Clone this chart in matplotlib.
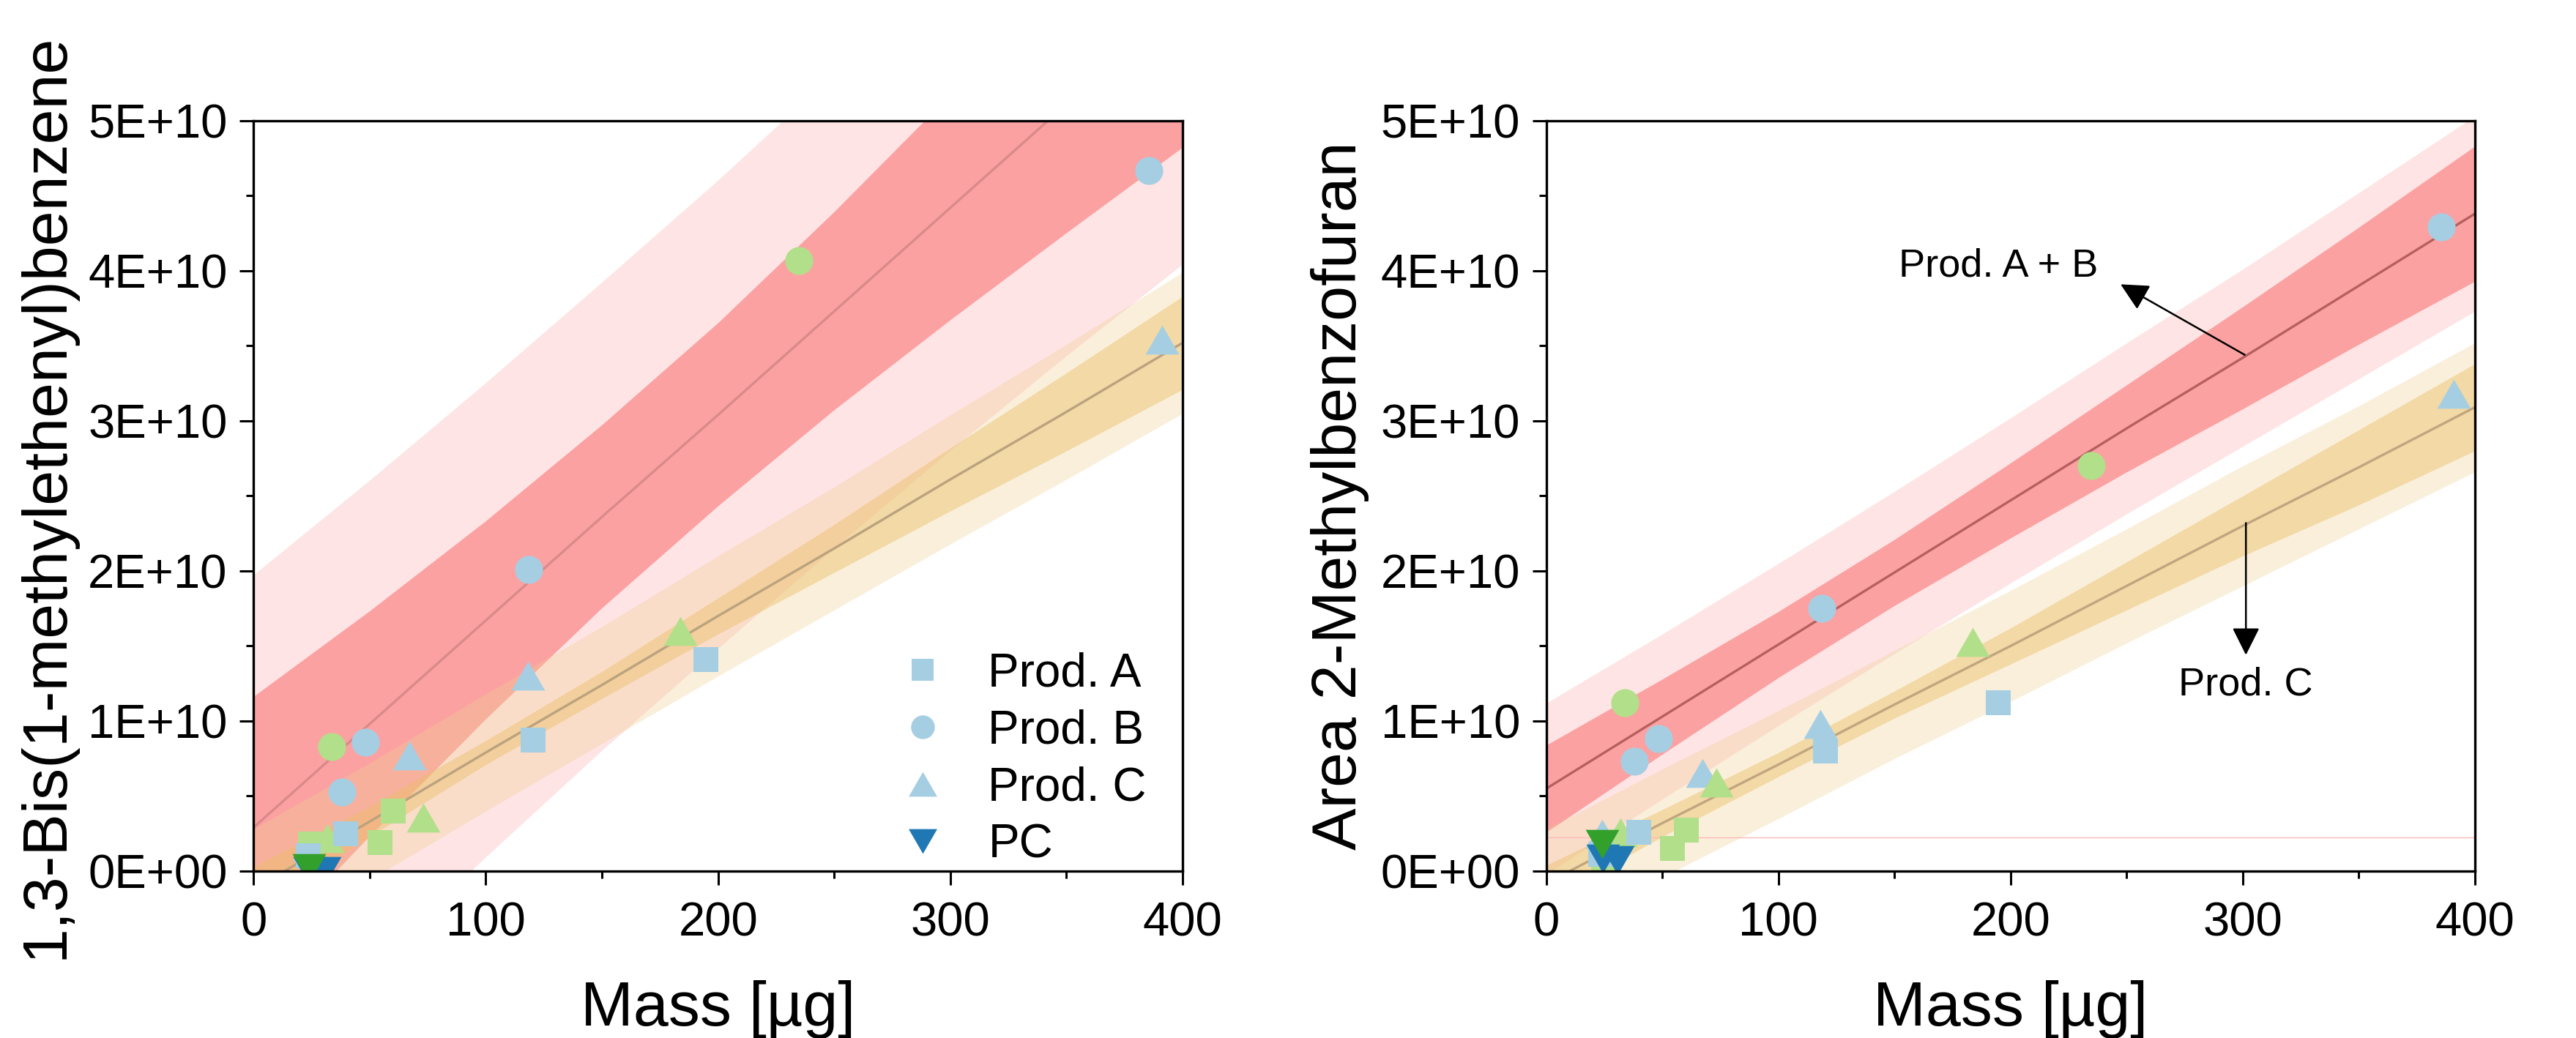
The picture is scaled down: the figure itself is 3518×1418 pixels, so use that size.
import numpy as np
import matplotlib
matplotlib.use("Agg")
import matplotlib.pyplot as plt
from matplotlib.lines import Line2D
from matplotlib.ticker import FuncFormatter, MultipleLocator

plt.rcParams["font.family"] = ["Liberation Sans", "DejaVu Sans"]

# ---------------- data (peak areas in units of 1E10) ----------------
# sample masses [ug], light blue / light green batches
mass_a_blue = [23.5, 39.7, 120.3, 194.7]
mass_a_green = [24.5, 54.4, 60.2]
mass_b_blue = [38.0, 48.3, 118.6, 385.6]
mass_b_green = [33.8, 234.9]
mass_c_blue = [24.1, 67.2, 118.1, 391.0]
mass_c_green = [31.8, 73.2, 183.7]
mass_pc_blue = [24.2, 30.5]
mass_pc_green = [24.0]

# 1,3-Bis(1-methylethenyl)benzene
bis_a_blue = [0.10, 0.25, 0.874, 1.41]
bis_a_green = [0.18, 0.19, 0.40]
bis_b_blue = [0.525, 0.86, 2.01, 4.67]
bis_b_green = [0.83, 4.07]
bis_c_blue = [0.16, 0.77, 1.30, 3.54]
bis_c_green = [0.22, 0.355, 1.60]
bis_pc_blue = [0.0, 0.0]
bis_pc_green = [0.02]

# 2-Methylbenzofuran
mbf_a_blue = [0.11, 0.257, 0.80, 1.12]
mbf_a_green = [0.08, 0.15, 0.272]
mbf_b_blue = [0.73, 0.885, 1.75, 4.29]
mbf_b_green = [1.12, 2.70]
mbf_c_blue = [0.25, 0.655, 0.98, 3.18]
mbf_c_green = [0.26, 0.59, 1.525]
mbf_pc_blue = [0.085, 0.073]
mbf_pc_green = [0.18]

band_x = [0, 50, 100, 150, 200, 250, 300, 350, 400]

bis_ab_fit = [0.29, 0.98, 1.67, 2.36, 3.04, 3.73, 4.42, 5.11, 5.80]
bis_ab_conf_up = [1.16, 1.73, 2.33, 2.97, 3.65, 4.39, 5.17, 5.97, 6.78]
bis_ab_conf_lo = [-0.58, 0.23, 1.01, 1.75, 2.43, 3.07, 3.67, 4.25, 4.82]
bis_ab_pred_up = [1.97, 2.60, 3.25, 3.92, 4.60, 5.31, 6.04, 6.79, 7.56]
bis_ab_pred_lo = [-1.39, -0.64, 0.09, 0.80, 1.48, 2.15, 2.80, 3.43, 4.04]

bis_c_fit = [-0.12, 0.33, 0.79, 1.24, 1.70, 2.15, 2.61, 3.06, 3.52]
bis_c_conf_up = [0.03, 0.43, 0.87, 1.33, 1.82, 2.31, 2.82, 3.32, 3.83]
bis_c_conf_lo = [-0.27, 0.23, 0.71, 1.15, 1.58, 1.99, 2.40, 2.80, 3.21]
bis_c_pred_up = [0.28, 0.72, 1.18, 1.63, 2.10, 2.56, 3.04, 3.51, 3.99]
bis_c_pred_lo = [-0.52, -0.06, 0.40, 0.85, 1.30, 1.74, 2.18, 2.61, 3.05]

mbf_ab_fit = [0.55, 1.03, 1.51, 1.99, 2.47, 2.95, 3.42, 3.90, 4.38]
mbf_ab_conf_up = [0.84, 1.28, 1.73, 2.21, 2.72, 3.24, 3.76, 4.29, 4.83]
mbf_ab_conf_lo = [0.26, 0.78, 1.29, 1.77, 2.22, 2.66, 3.08, 3.51, 3.93]
mbf_ab_pred_up = [1.12, 1.58, 2.05, 2.53, 3.02, 3.52, 4.01, 4.52, 5.03]
mbf_ab_pred_lo = [-0.02, 0.48, 0.97, 1.45, 1.92, 2.38, 2.83, 3.28, 3.73]

mbf_c_fit = [-0.08, 0.32, 0.71, 1.11, 1.50, 1.90, 2.30, 2.69, 3.09]
mbf_c_conf_up = [0.04, 0.41, 0.79, 1.20, 1.62, 2.06, 2.50, 2.94, 3.38]
mbf_c_conf_lo = [-0.20, 0.23, 0.63, 1.02, 1.38, 1.74, 2.10, 2.44, 2.80]
mbf_c_pred_up = [0.28, 0.68, 1.07, 1.47, 1.87, 2.28, 2.70, 3.10, 3.52]
mbf_c_pred_lo = [-0.44, -0.04, 0.35, 0.75, 1.13, 1.52, 1.90, 2.28, 2.66]

mbf_baseline = 0.225

# ---------------- styling ----------------
LBLUE, LGREEN = "#a6cee3", "#b2df8a"
DBLUE, DGREEN = "#1f78b4", "#33a02c"
TRI_UP = [(-1, -0.866), (1, -0.866), (0, 0.866), (-1, -0.866)]
TRI_DN = [(-1, 0.866), (1, 0.866), (0, -0.866), (-1, 0.866)]
MS_SQ, MS_CI, MS_TR = 25, 27.5, 33


def fmt_sci(v, pos):
    if abs(v) < 1e-9:
        return "0E+00"
    return f"{v:.0f}E+10"


def draw_bands(ax, ab, c, ab_line_color, c_line_color):
    ab_fit, ab_cu, ab_cl, ab_pu, ab_pl = ab
    c_fit, c_cu, c_cl, c_pu, c_pl = c
    ax.fill_between(band_x, ab_pl, ab_pu, color="#fb6e6e", alpha=0.18, lw=0, zorder=1)
    ax.fill_between(band_x, ab_cl, ab_cu, color="#fa4646", alpha=0.42, lw=0, zorder=1.1)
    ax.fill_between(band_x, c_pl, c_pu, color="#efd092", alpha=0.32, lw=0, zorder=1.2)
    ax.fill_between(band_x, c_cl, c_cu, color="#ebbe64", alpha=0.44, lw=0, zorder=1.3)
    ax.plot(band_x, ab_fit, color=ab_line_color, lw=2.4, zorder=1.5)
    ax.plot(band_x, c_fit, color=c_line_color, lw=2.4, zorder=1.5)


def draw_points(ax, vals):
    a_b, a_g, b_b, b_g, c_b, c_g, pc_b, pc_g = vals
    kw = dict(ls="none", mew=0, zorder=2.2)
    ax.plot(mass_c_blue, c_b, marker=TRI_UP, ms=MS_TR, color=LBLUE, **kw)
    ax.plot(mass_c_green, c_g, marker=TRI_UP, ms=MS_TR, color=LGREEN, **kw)
    ax.plot(mass_a_green, a_g, marker="s", ms=MS_SQ, color=LGREEN, **kw)
    ax.plot(mass_a_blue, a_b, marker="s", ms=MS_SQ, color=LBLUE, **kw)
    ax.plot(mass_b_green, b_g, marker="o", ms=MS_CI, color=LGREEN, **kw)
    ax.plot(mass_b_blue, b_b, marker="o", ms=MS_CI, color=LBLUE, **kw)
    ax.plot(mass_pc_blue, pc_b, marker=TRI_DN, ms=MS_TR, color=DBLUE, **kw)
    ax.plot(mass_pc_green, pc_g, marker=TRI_DN, ms=MS_TR, color=DGREEN, **kw)


def style_axes(ax, ylabel):
    ax.set_xlim(0, 400)
    ax.set_ylim(0, 5)
    ax.xaxis.set_major_locator(MultipleLocator(100))
    ax.xaxis.set_minor_locator(MultipleLocator(50))
    ax.yaxis.set_major_locator(MultipleLocator(1))
    ax.yaxis.set_minor_locator(MultipleLocator(0.5))
    ax.yaxis.set_major_formatter(FuncFormatter(fmt_sci))
    ax.tick_params(which="major", direction="out", length=13.7, width=2.2, labelsize=47)
    ax.tick_params(which="minor", direction="out", length=7, width=2.2)
    ax.tick_params(axis="y", which="major", pad=12)
    ax.tick_params(axis="x", which="major", pad=16)
    for sp in ax.spines.values():
        sp.set_linewidth(2.4)
    ax.set_xlabel("Mass [µg]", fontsize=62)
    ax.set_ylabel(ylabel, fontsize=62)
    ax.xaxis.set_label_coords(0.5, -0.145)
    ax.yaxis.set_label_coords(-0.191, 0.5)


fig = plt.figure(figsize=(35.18, 14.18), dpi=100)
ax1 = fig.add_axes([0.0984, 0.1608, 0.3607, 0.7229])
ax2 = fig.add_axes([0.6003, 0.1608, 0.3604, 0.7229])

# ---- left panel ----
draw_bands(ax1,
           (bis_ab_fit, bis_ab_conf_up, bis_ab_conf_lo, bis_ab_pred_up, bis_ab_pred_lo),
           (bis_c_fit, bis_c_conf_up, bis_c_conf_lo, bis_c_pred_up, bis_c_pred_lo),
           "#d98a8a", "#bba27e")
draw_points(ax1, (bis_a_blue, bis_a_green, bis_b_blue, bis_b_green,
                  bis_c_blue, bis_c_green, bis_pc_blue, bis_pc_green))
style_axes(ax1, "1,3-Bis(1-methylethenyl)benzene")

handles = [
    Line2D([], [], ls="none", marker="s", ms=MS_SQ, mew=0, color=LBLUE),
    Line2D([], [], ls="none", marker="o", ms=MS_CI, mew=0, color=LBLUE),
    Line2D([], [], ls="none", marker=TRI_UP, ms=MS_TR, mew=0, color=LBLUE),
    Line2D([], [], ls="none", marker=TRI_DN, ms=MS_TR, mew=0, color=DBLUE),
]
ax1.legend(handles, ["Prod. A", "Prod. B", "Prod. C", "PC"],
           loc="upper left", bbox_to_anchor=(0.695, 0.292), frameon=False,
           fontsize=46, handlelength=1.0, handletextpad=0.9, labelspacing=0.28,
           borderpad=0, borderaxespad=0, markerscale=0.85)

# ---- right panel ----
ax2.axhline(mbf_baseline, color="#ffb8b8", lw=1.0, zorder=1.4)
draw_bands(ax2,
           (mbf_ab_fit, mbf_ab_conf_up, mbf_ab_conf_lo, mbf_ab_pred_up, mbf_ab_pred_lo),
           (mbf_c_fit, mbf_c_conf_up, mbf_c_conf_lo, mbf_c_pred_up, mbf_c_pred_lo),
           "#b5605e", "#c0a57f")
draw_points(ax2, (mbf_a_blue, mbf_a_green, mbf_b_blue, mbf_b_green,
                  mbf_c_blue, mbf_c_green, mbf_pc_blue, mbf_pc_green))
style_axes(ax2, "Area 2-Methylbenzofuran")

arrow = dict(arrowstyle="-|>,head_length=0.4,head_width=0.2", mutation_scale=58,
             color="black", lw=1.8, shrinkA=0, shrinkB=0)
ax2.annotate("", xy=(247.4, 3.91), xytext=(300.9, 3.44), arrowprops=arrow, zorder=3)
ax2.annotate("", xy=(301.4, 1.44), xytext=(301.4, 2.32), arrowprops=arrow, zorder=3)
ax2.text(194.7, 4.03, "Prod. A + B", fontsize=39, ha="center", va="center", zorder=3)
ax2.text(301.4, 1.24, "Prod. C", fontsize=39, ha="center", va="center", zorder=3)

fig.savefig("out.png", dpi=100)
